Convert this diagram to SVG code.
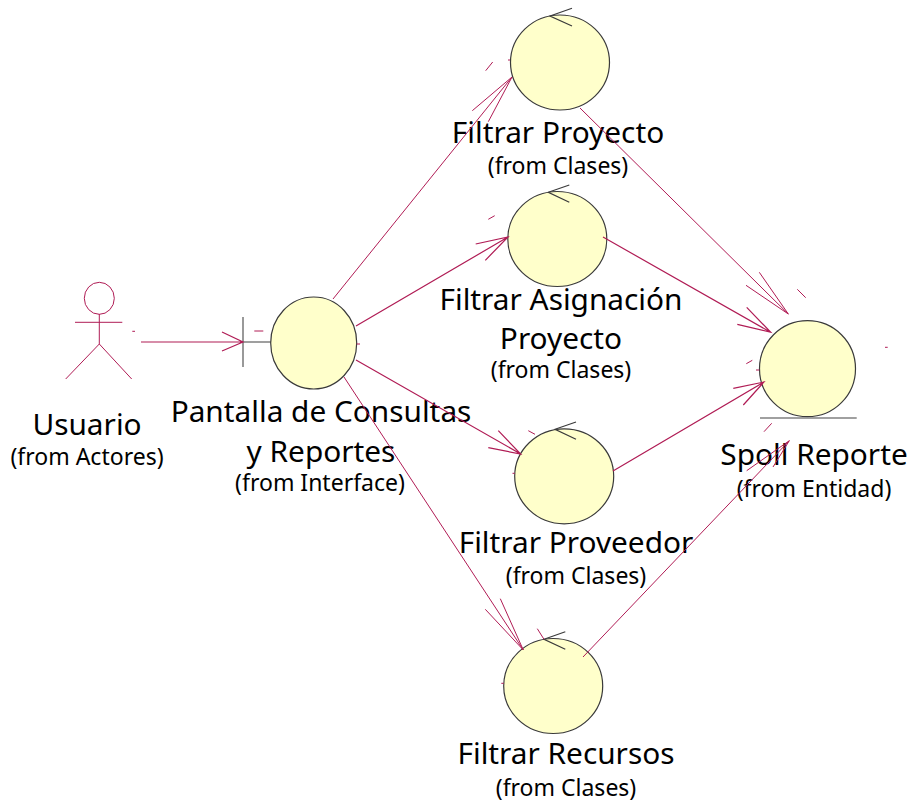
<svg xmlns="http://www.w3.org/2000/svg" width="915" height="802" viewBox="0 0 915 802">
<style>
.c{fill:#ffffcb;stroke:#3a3a3a;stroke-width:1.2}
.k{fill:none;stroke:#3a3a3a;stroke-width:1.2}
.g{fill:none;stroke:#808080;stroke-width:1.6}
.m{fill:none;stroke:#b01c55;stroke-width:1}
.h{fill:none;stroke:#b01c55;stroke-width:1.2}
.t{stroke:#b01c55;stroke-width:1;fill:none}
.l{font-family:"Noto Sans",sans-serif;font-size:29.8px;fill:#000;text-anchor:middle}
.s{font-family:"Noto Sans",sans-serif;font-size:23px;fill:#000;text-anchor:middle}
</style>
<g id="usuario">
<ellipse cx="99.3" cy="298.3" rx="15" ry="16" fill="none" stroke="#b01c55"/>
<path class="m" d="M99.3 314V344M75 322.3H122.3M65.7 379L99.3 344L131.7 379"/>
<text class="l" x="87" y="435">Usuario</text>
<text class="s" x="87" y="465">(from Actores)</text>
</g>
<g id="pantalla">
<path class="g" d="M243 317V367M243 342H271"/>
<ellipse class="c" cx="313.7" cy="343" rx="43" ry="46"/>
<text class="l" x="321" y="422">Pantalla de Consultas</text>
<text class="l" x="321" y="462">y Reportes</text>
<text class="s" x="320" y="491">(from Interface)</text>
</g>
<g id="filtrar-proyecto">
<ellipse class="c" cx="560" cy="62.5" rx="49.5" ry="47.5"/>
<path class="k" d="M572 8.3L550 16L572 26"/>
<text class="l" x="558" y="143">Filtrar Proyecto</text>
<text class="s" x="558" y="174">(from Clases)</text>
</g>
<g id="filtrar-asignacion">
<ellipse class="c" cx="557.3" cy="239" rx="49.5" ry="47.5"/>
<path class="k" d="M569.3 185L548.3 192.3L569.3 202.3"/>
<text class="l" x="561" y="310">Filtrar Asignación</text>
<text class="l" x="561" y="349">Proyecto</text>
<text class="s" x="561" y="378">(from Clases)</text>
</g>
<g id="filtrar-proveedor">
<ellipse class="c" cx="564.2" cy="476.3" rx="49.5" ry="47.5"/>
<path class="k" d="M576 422L555 429.3L576 439.3"/>
<text class="l" x="576" y="553">Filtrar Proveedor</text>
<text class="s" x="576" y="584">(from Clases)</text>
</g>
<g id="filtrar-recursos">
<ellipse class="c" cx="553.2" cy="686" rx="49.5" ry="47.5"/>
<path class="k" d="M565.3 631.7L544 639.3L565.3 649.3"/>
<text class="l" x="566" y="764">Filtrar Recursos</text>
<text class="s" x="566" y="796">(from Clases)</text>
</g>
<g id="spoll-reporte">
<ellipse class="c" cx="807.5" cy="368.7" rx="48" ry="48"/>
<path class="g" d="M760 418H856.7"/>
<text class="l" x="814" y="465">Spoll Reporte</text>
<text class="s" x="814" y="497">(from Entidad)</text>
</g>
<g id="connectors">
<path class="h" d="M141 342H243M222 332L243 342L222 351"/>
<path class="m" d="M333 299L512 77M472.3 110.7L512 77L488.3 121.7"/>
<path class="h" d="M356 326L508 237M475.7 244L508 237L485.3 260.3"/>
<path class="h" d="M356 360L520.7 454M498.3 430.7L520.7 454L488.3 447.7"/>
<path class="m" d="M344 377L523.3 650M500.3 598.7L523.3 650L485.3 609.3"/>
<path class="m" d="M580 108L788.3 314M759.3 272.3L788.3 314L746 285.3"/>
<path class="h" d="M603 237L770.7 332.3M746.7 307.3L770.7 332.3L737.3 324.3"/>
<path class="h" d="M613 471L764 382M733.3 388.3L764 382L743.3 405"/>
<path class="m" d="M583 657L789.3 440.7M746.7 470.7L789.3 440.7L773 467"/>
<path class="t" d="M132.3 331.3H135M254.3 331H263.3M356.7 344H360M485.7 70.7L492.7 62M488.3 219.3L494.7 215.7M528.3 430.7L535 434.3M537.3 628.7L544 639.3M797.3 289.3L805.7 297.7M885 347.3H887.7M746.3 363.7L752.3 360.3M764 431.7L771.7 423.3M508 60H510M512.5 473.3H514.7M501.3 683.3H503.7M756 370H759.3"/>
</g>
</svg>
